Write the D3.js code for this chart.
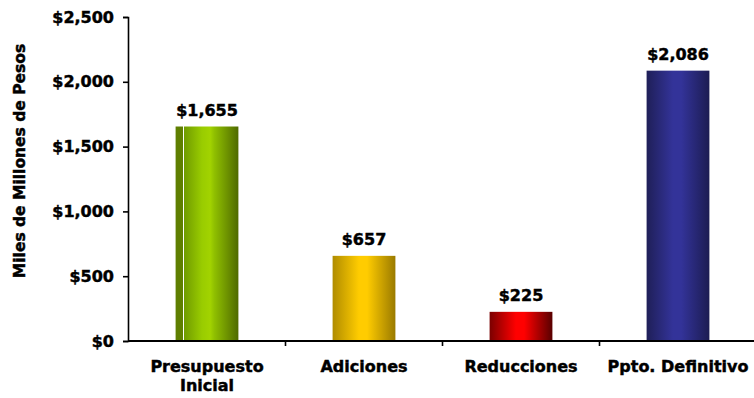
<!DOCTYPE html>
<html>
<head>
<meta charset="utf-8">
<script src="https://cdn.jsdelivr.net/npm/d3@7"></script>
<style>
  html, body { margin: 0; padding: 0; background: #fff; }
  svg { display: block; font-family: "DejaVu Sans", Verdana, sans-serif; font-weight: bold; }
  svg text { stroke: #000; stroke-width: 0.45px; fill: #000; }
</style>
</head>
<body>
<svg id="chart" width="754" height="398"></svg>
<script>
// Budget figures (Miles de Millones de Pesos)
const categories = ["Presupuesto Inicial", "Adiciones", "Reducciones", "Ppto. Definitivo"];
const labelLines = [["Presupuesto", "Inicial"], ["Adiciones"], ["Reducciones"], ["Ppto. Definitivo"]];
const values = [1655, 657, 225, 2086];
const yTicks = [0, 500, 1000, 1500, 2000, 2500];
// cylinder-style shading for each bar: edge, highlight, far edge
const barShades = [
  ["#5f7f00", "#99cc00", "#4f6a00"],
  ["#b08c00", "#ffcc00", "#9a7a00"],
  ["#7a0000", "#ff0000", "#580000"],
  ["#1f1f58", "#333399", "#1c1c52"]
];

const svg = d3.select("#chart");
const margin = { left: 128, top: 17, bottom: 341 };

const x = d3.scaleBand().domain(categories).range([128.5, 756.5]).padding(0);
const y = d3.scaleLinear().domain([0, 2500]).range([margin.bottom, margin.top]);
const barFrac = 0.4;
const fs = 16;

// gradients
const defs = svg.append("defs");
barShades.forEach((s, i) => {
  const g = defs.append("linearGradient").attr("id", "grad" + i)
    .attr("x1", 0).attr("x2", 1).attr("y1", 0).attr("y2", 0);
  const stops = i === 0
    ? [[0, s[0]], [0.11, s[0]], [0.11, "#ffffff"], [0.13, "#ffffff"], [0.13, "#6f9a00"],
       [0.42, s[1]], [0.55, "#a2d300"], [0.62, "#8fbf00"], [1, s[2]]]
    : [[0, s[0]], [0.42, s[1]], [0.55, s[1]], [1, s[2]]];
  stops.forEach(([o, c]) => g.append("stop").attr("offset", o).attr("stop-color", c));
});

// bars
const bw = x.bandwidth() * barFrac;
svg.append("g").selectAll("rect").data(values).join("rect")
  .attr("x", (d, i) => x(categories[i]) + (x.bandwidth() - bw) / 2)
  .attr("y", d => y(d))
  .attr("width", bw)
  .attr("height", d => y(0) - y(d))
  .attr("fill", (d, i) => `url(#grad${i})`);

// value labels
svg.append("g").selectAll("text").data(values).join("text")
  .attr("x", (d, i) => x(categories[i]) + x.bandwidth() / 2)
  .attr("y", d => y(d) - 11)
  .attr("text-anchor", "middle")
  .attr("font-size", fs)
  .text(d => "$" + d3.format(",")(d));

// y axis
const yAxis = d3.axisLeft(y).tickValues(yTicks).tickSize(5).tickPadding(9)
  .tickFormat(d => "$" + d3.format(",")(d));
const gy = svg.append("g").attr("transform", `translate(${margin.left},0)`).call(yAxis);
gy.select(".domain").attr("stroke", "#000").attr("stroke-width", 1.6);
gy.selectAll(".tick line").attr("stroke", "#000").attr("stroke-width", 1.6);
gy.selectAll(".tick text").attr("font-size", fs).attr("font-family", "DejaVu Sans")
  .attr("font-weight", "bold");

// x axis line with ticks at category boundaries
const gx = svg.append("g");
gx.append("line").attr("x1", margin.left).attr("x2", 754)
  .attr("y1", y(0)).attr("y2", y(0)).attr("stroke", "#000").attr("stroke-width", 2);
gx.selectAll("line.tk").data(categories.slice(1)).join("line").attr("class", "tk")
  .attr("x1", d => x(d)).attr("x2", d => x(d))
  .attr("y1", y(0)).attr("y2", y(0) + 5)
  .attr("stroke", "#000").attr("stroke-width", 1.6);

// category labels
labelLines.forEach((lines, i) => {
  const t = gx.append("text")
    .attr("x", x(categories[i]) + x.bandwidth() / 2)
    .attr("y", y(0) + 31)
    .attr("text-anchor", "middle")
    .attr("font-size", fs);
  lines.forEach((ln, j) => t.append("tspan")
    .attr("x", x(categories[i]) + x.bandwidth() / 2)
    .attr("dy", j === 0 ? 0 : 19).text(ln));
});

// y axis title
svg.append("text")
  .attr("transform", `translate(25,${(margin.top + margin.bottom) / 2 - 18}) rotate(-90)`)
  .attr("text-anchor", "middle")
  .attr("font-size", 15.5)
  .text("Miles de Millones de Pesos");
</script>
</body>
</html>
